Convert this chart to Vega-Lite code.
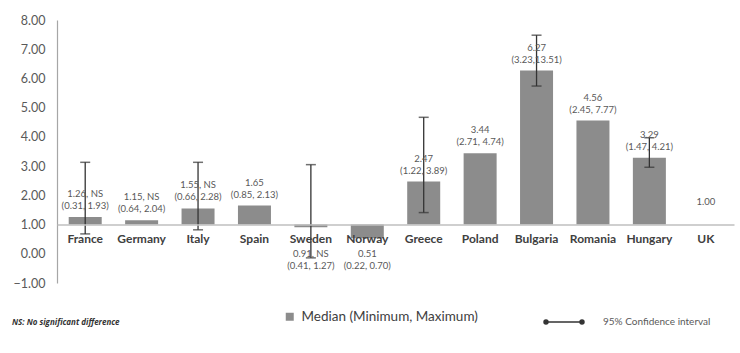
{
  "$schema": "https://vega.github.io/schema/vega-lite/v6.json",
  "width": 677,
  "height": 263,
  "autosize": {"type": "none"},
  "padding": {"left": 57, "top": 20, "right": 6, "bottom": 70},
  "background": "white",
  "config": {
    "view": {"stroke": null},
    "font": "Lato",
    "text": {"lineBreak": "\n"},
    "axisY": {"labelOverlap": false, "labelFlush": false}
  },
  "title": {
    "text": "NS: No significant difference",
    "orient": "bottom",
    "anchor": "start",
    "frame": "group",
    "dx": -45,
    "offset": -8,
    "fontSize": 8,
    "fontStyle": "italic",
    "fontWeight": "bold",
    "color": "#333333",
    "font": "Open Sans"
  },
  "data": {
    "values": [
      {"country": "France", "median": 1.26, "label": "1.26, NS\n(0.31, 1.93)", "ci_lo": 0.68, "ci_hi": 3.13},
      {"country": "Germany", "median": 1.15, "label": "1.15, NS\n(0.64, 2.04)", "ci_lo": null, "ci_hi": null},
      {"country": "Italy", "median": 1.55, "label": "1.55, NS\n(0.66, 2.28)", "ci_lo": 0.82, "ci_hi": 3.13},
      {"country": "Spain", "median": 1.65, "label": "1.65\n(0.85, 2.13)", "ci_lo": null, "ci_hi": null},
      {"country": "Sweden", "median": 0.91, "label": "0.91, NS\n(0.41, 1.27)", "ci_lo": -0.14, "ci_hi": 3.05},
      {"country": "Norway", "median": 0.53, "label": "0.51\n(0.22, 0.70)", "ci_lo": null, "ci_hi": null},
      {"country": "Greece", "median": 2.47, "label": "2.47\n(1.22, 3.89)", "ci_lo": 1.41, "ci_hi": 4.67},
      {"country": "Poland", "median": 3.44, "label": "3.44\n(2.71, 4.74)", "ci_lo": null, "ci_hi": null},
      {"country": "Bulgaria", "median": 6.27, "label": "6.27\n(3.23,13.51)", "ci_lo": 5.74, "ci_hi": 7.48},
      {"country": "Romania", "median": 4.56, "label": "4.56\n(2.45, 7.77)", "ci_lo": null, "ci_hi": null},
      {"country": "Hungary", "median": 3.29, "label": "3.29\n(1.47, 4.21)", "ci_lo": 2.96, "ci_hi": 3.97},
      {"country": "UK", "median": 1.0, "label": "1.00", "ci_lo": null, "ci_hi": null}
    ]
  },
  "encoding": {
    "x": {
      "field": "country",
      "type": "nominal",
      "sort": null,
      "scale": {"paddingInner": 0.415, "paddingOuter": 0.2075},
      "axis": {
        "title": null,
        "offset": -58.4,
        "labelAngle": 0,
        "ticks": false,
        "labelPadding": 9,
        "labelFont": "Lato",
        "labelFontSize": 12,
        "labelFontWeight": "bold",
        "labelColor": "#404040",
        "domainColor": "#bfbfbf",
        "domainWidth": 1.5,
        "zindex": 1
      }
    }
  },
  "layer": [
    {
      "mark": {"type": "bar"},
      "encoding": {
        "y": {
          "field": "median",
          "type": "quantitative",
          "scale": {"domain": [-1, 8], "nice": false, "zero": false},
          "axis": {
            "title": null,
            "values": [-1, 0, 1, 2, 3, 4, 5, 6, 7, 8],
            "tickCount": 12,
            "format": ".2f",
            "grid": false,
            "ticks": false,
            "labelOverlap": false,
            "labelFlush": false,
            "labelPadding": 12,
            "labelFont": "Lato",
            "labelFontSize": 12.5,
            "labelColor": "#595959",
            "domainColor": "#a6a6a6",
            "domainWidth": 1.2
          }
        },
        "y2": {"datum": 1},
        "fill": {
          "datum": "Median  (Minimum, Maximum)",
          "scale": {"range": ["#8c8c8c"]},
          "legend": {
            "title": null,
            "orient": "none",
            "legendX": 226,
            "legendY": 290,
            "padding": 0,
            "symbolType": "square",
            "symbolSize": 64,
            "symbolStrokeWidth": 0,
            "labelFont": "Lato",
            "labelFontSize": 13.5,
            "labelColor": "#404040",
            "labelOffset": 5,
            "labelLimit": 400
          }
        }
      }
    },
    {
      "transform": [{"filter": "datum.ci_hi != null"}],
      "mark": {"type": "rule", "strokeWidth": 1.3},
      "encoding": {
        "y": {"field": "ci_lo", "type": "quantitative"},
        "y2": {"field": "ci_hi"},
        "stroke": {
          "datum": "95% Confidence interval",
          "scale": {"range": ["#333333"]},
          "legend": {
            "title": null,
            "orient": "none",
            "legendX": 488,
            "legendY": 283,
            "padding": 0,
            "symbolType": "M-1,0L1,0M-1.11,0a0.11,0.11 0 1,0 0.22,0a0.11,0.11 0 1,0 -0.22,0M0.89,0a0.11,0.11 0 1,0 0.22,0a0.11,0.11 0 1,0 -0.22,0",
            "symbolSize": 1296,
            "symbolStrokeWidth": 1.5,
            "symbolStrokeColor": "#333333",
            "symbolFillColor": "#333333",
            "labelFont": "Lato",
            "labelFontSize": 10,
            "labelColor": "#595959",
            "labelOffset": 20,
            "labelLimit": 300
          }
        }
      }
    },
    {
      "transform": [{"filter": "datum.ci_hi != null"}],
      "mark": {"type": "tick", "size": 10, "thickness": 1.5, "color": "#333333"},
      "encoding": {"y": {"field": "ci_hi", "type": "quantitative"}}
    },
    {
      "transform": [{"filter": "datum.ci_hi != null"}],
      "mark": {"type": "tick", "size": 10, "thickness": 1.5, "color": "#333333"},
      "encoding": {"y": {"field": "ci_lo", "type": "quantitative"}}
    },
    {
      "transform": [{"filter": "datum.median >= 1"}],
      "mark": {"type": "text", "baseline": "bottom", "dy": -18, "fontSize": 9.5, "lineHeight": 12, "color": "#595959", "font": "Lato"},
      "encoding": {
        "y": {"field": "median", "type": "quantitative"},
        "text": {"field": "label", "type": "nominal"}
      }
    },
    {
      "transform": [{"filter": "datum.median < 1"}],
      "mark": {"type": "text", "baseline": "top", "dy": 24, "fontSize": 9.5, "lineHeight": 12, "color": "#595959", "font": "Lato"},
      "encoding": {
        "y": {"datum": 1},
        "text": {"field": "label", "type": "nominal"}
      }
    }
  ]
}
